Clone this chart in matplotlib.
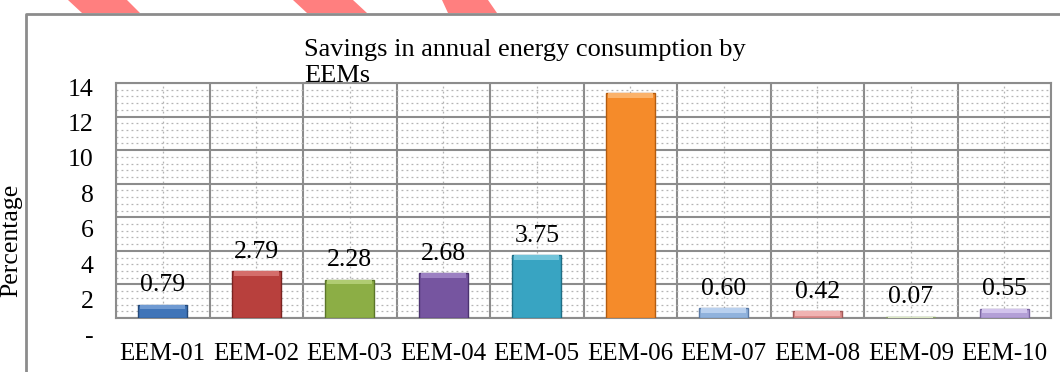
import numpy as np
import matplotlib
matplotlib.use("Agg")
import matplotlib.pyplot as plt
from matplotlib.patches import Polygon
from matplotlib.lines import Line2D
from matplotlib.ticker import MultipleLocator, FixedLocator, NullFormatter

# ---- data ----
measures = ["EEM-01", "EEM-02", "EEM-03", "EEM-04", "EEM-05",
            "EEM-06", "EEM-07", "EEM-08", "EEM-09", "EEM-10"]
savings = [0.79, 2.79, 2.28, 2.68, 3.75, 13.40, 0.60, 0.42, 0.07, 0.55]
show_label = [True, True, True, True, True, False, True, True, True, True]
y_ticks = [0, 2, 4, 6, 8, 10, 12, 14]
y_tick_labels = ["-", "2", "4", "6", "8", "10", "12", "14"]

face = ["#3f74b8", "#b8403d", "#8cae45", "#7655a0", "#38a4c2",
        "#f58b2a", "#90b2dc", "#dd8c8b", "#bfd49a", "#b39fd6"]
edge = ["#24497a", "#7a2321", "#5b7529", "#4b3370", "#1f6e85",
        "#b35c10", "#5a7aa6", "#a35a59", "#8aa066", "#7a65a0"]
light = ["#6f9ad2", "#d46e6b", "#b0cc72", "#9c80c2", "#72c4da",
         "#fbb26a", "#b9d0ee", "#f0b3b2", "#dbe8c2", "#d3c4ec"]

W, H = 1060, 372
plt.rcParams["font.family"] = ["Liberation Serif", "DejaVu Serif"]
GRID = "#8c8c8c"

fig = plt.figure(figsize=(W / 100, H / 100), dpi=100)

def px(x, y):
    # pixel position (top-left origin) -> figure fraction
    return (x / W, 1 - y / H)

# decorative stripes along the top edge
for pts in [[(68, 0), (127, 0), (140, 13), (82, 13)],
            [(293, 0), (353, 0), (367, 13), (307, 13)],
            [(442, 0), (488, 0), (497, 13), (448, 13)]]:
    fig.patches.append(Polygon([px(*p) for p in pts], closed=True,
                               transform=fig.transFigure, color="#ff7f7f", lw=0))

# chart frame (cropped at right and bottom)
fig.lines.append(Line2D([26 / W, 26 / W, 1.0], [0.0, 1 - 14 / H, 1 - 14 / H],
                        transform=fig.transFigure, color=GRID, lw=2))

# ---- plot area ----
L, T, R, B = 116, 83, 1051, 318
ax = fig.add_axes([L / W, 1 - B / H, (R - L) / W, (B - T) / H])
x = np.arange(len(measures))
bw = 0.52

bars = ax.bar(x, savings, width=bw, color=face, edgecolor=edge, linewidth=1.0, zorder=3)
# lighter bevel band at the top of each bar
band = [min(0.28, v) for v in savings]
ax.bar(x, band, width=bw - 0.04, bottom=[v - b for v, b in zip(savings, band)],
       color=light, linewidth=0, zorder=4)

labels = [f"{v:.2f}" if s else "" for v, s in zip(savings, show_label)]
ax.bar_label(bars, labels=labels, padding=6, fontsize=18.5, zorder=5)

ax.set_xlim(-0.5, len(measures) - 0.5)
ax.set_ylim(0, 14)

ax.xaxis.set_major_locator(FixedLocator(np.arange(len(measures) + 1) - 0.5))
ax.xaxis.set_major_formatter(NullFormatter())
ax.set_xticks(x, measures, minor=True)
ax.tick_params(axis="x", which="both", length=0, labelsize=18, pad=18)

ax.yaxis.set_major_locator(MultipleLocator(2))
ax.yaxis.set_minor_locator(MultipleLocator(0.4))
ax.tick_params(axis="y", which="both", length=0, labelleft=False)

ax.grid(which="major", color=GRID, lw=1.5, zorder=0)
ax.grid(which="minor", color="#b4b4b4", lw=0.9, ls=(0, (1.5, 2.5)), zorder=0)
ax.set_axisbelow(True)
for s in ax.spines.values():
    s.set_color(GRID)
    s.set_linewidth(1.5)

ax.set_ylabel("Percentage", fontsize=18.5)
ax.yaxis.set_label_coords((22 - L) / (R - L), (B - 240) / (B - T))

# value axis labels sit on their own slightly taller scale
lab = fig.add_axes([L / W, 1 - 335 / H, 0.0001, (335 - 87) / H])
lab.set_ylim(0, 14)
lab.set_yticks(y_ticks, y_tick_labels)
lab.tick_params(axis="y", length=0, labelsize=18.5, pad=16)
lab.xaxis.set_visible(False)
lab.patch.set_visible(False)
for s in lab.spines.values():
    s.set_visible(False)

fig.text(304 / W, 1 - 82 / H, "Savings in annual energy consumption by\nEEMs",
         fontsize=19, ha="left", va="baseline", linespacing=1.25)

fig.savefig("out.png", dpi=100)
